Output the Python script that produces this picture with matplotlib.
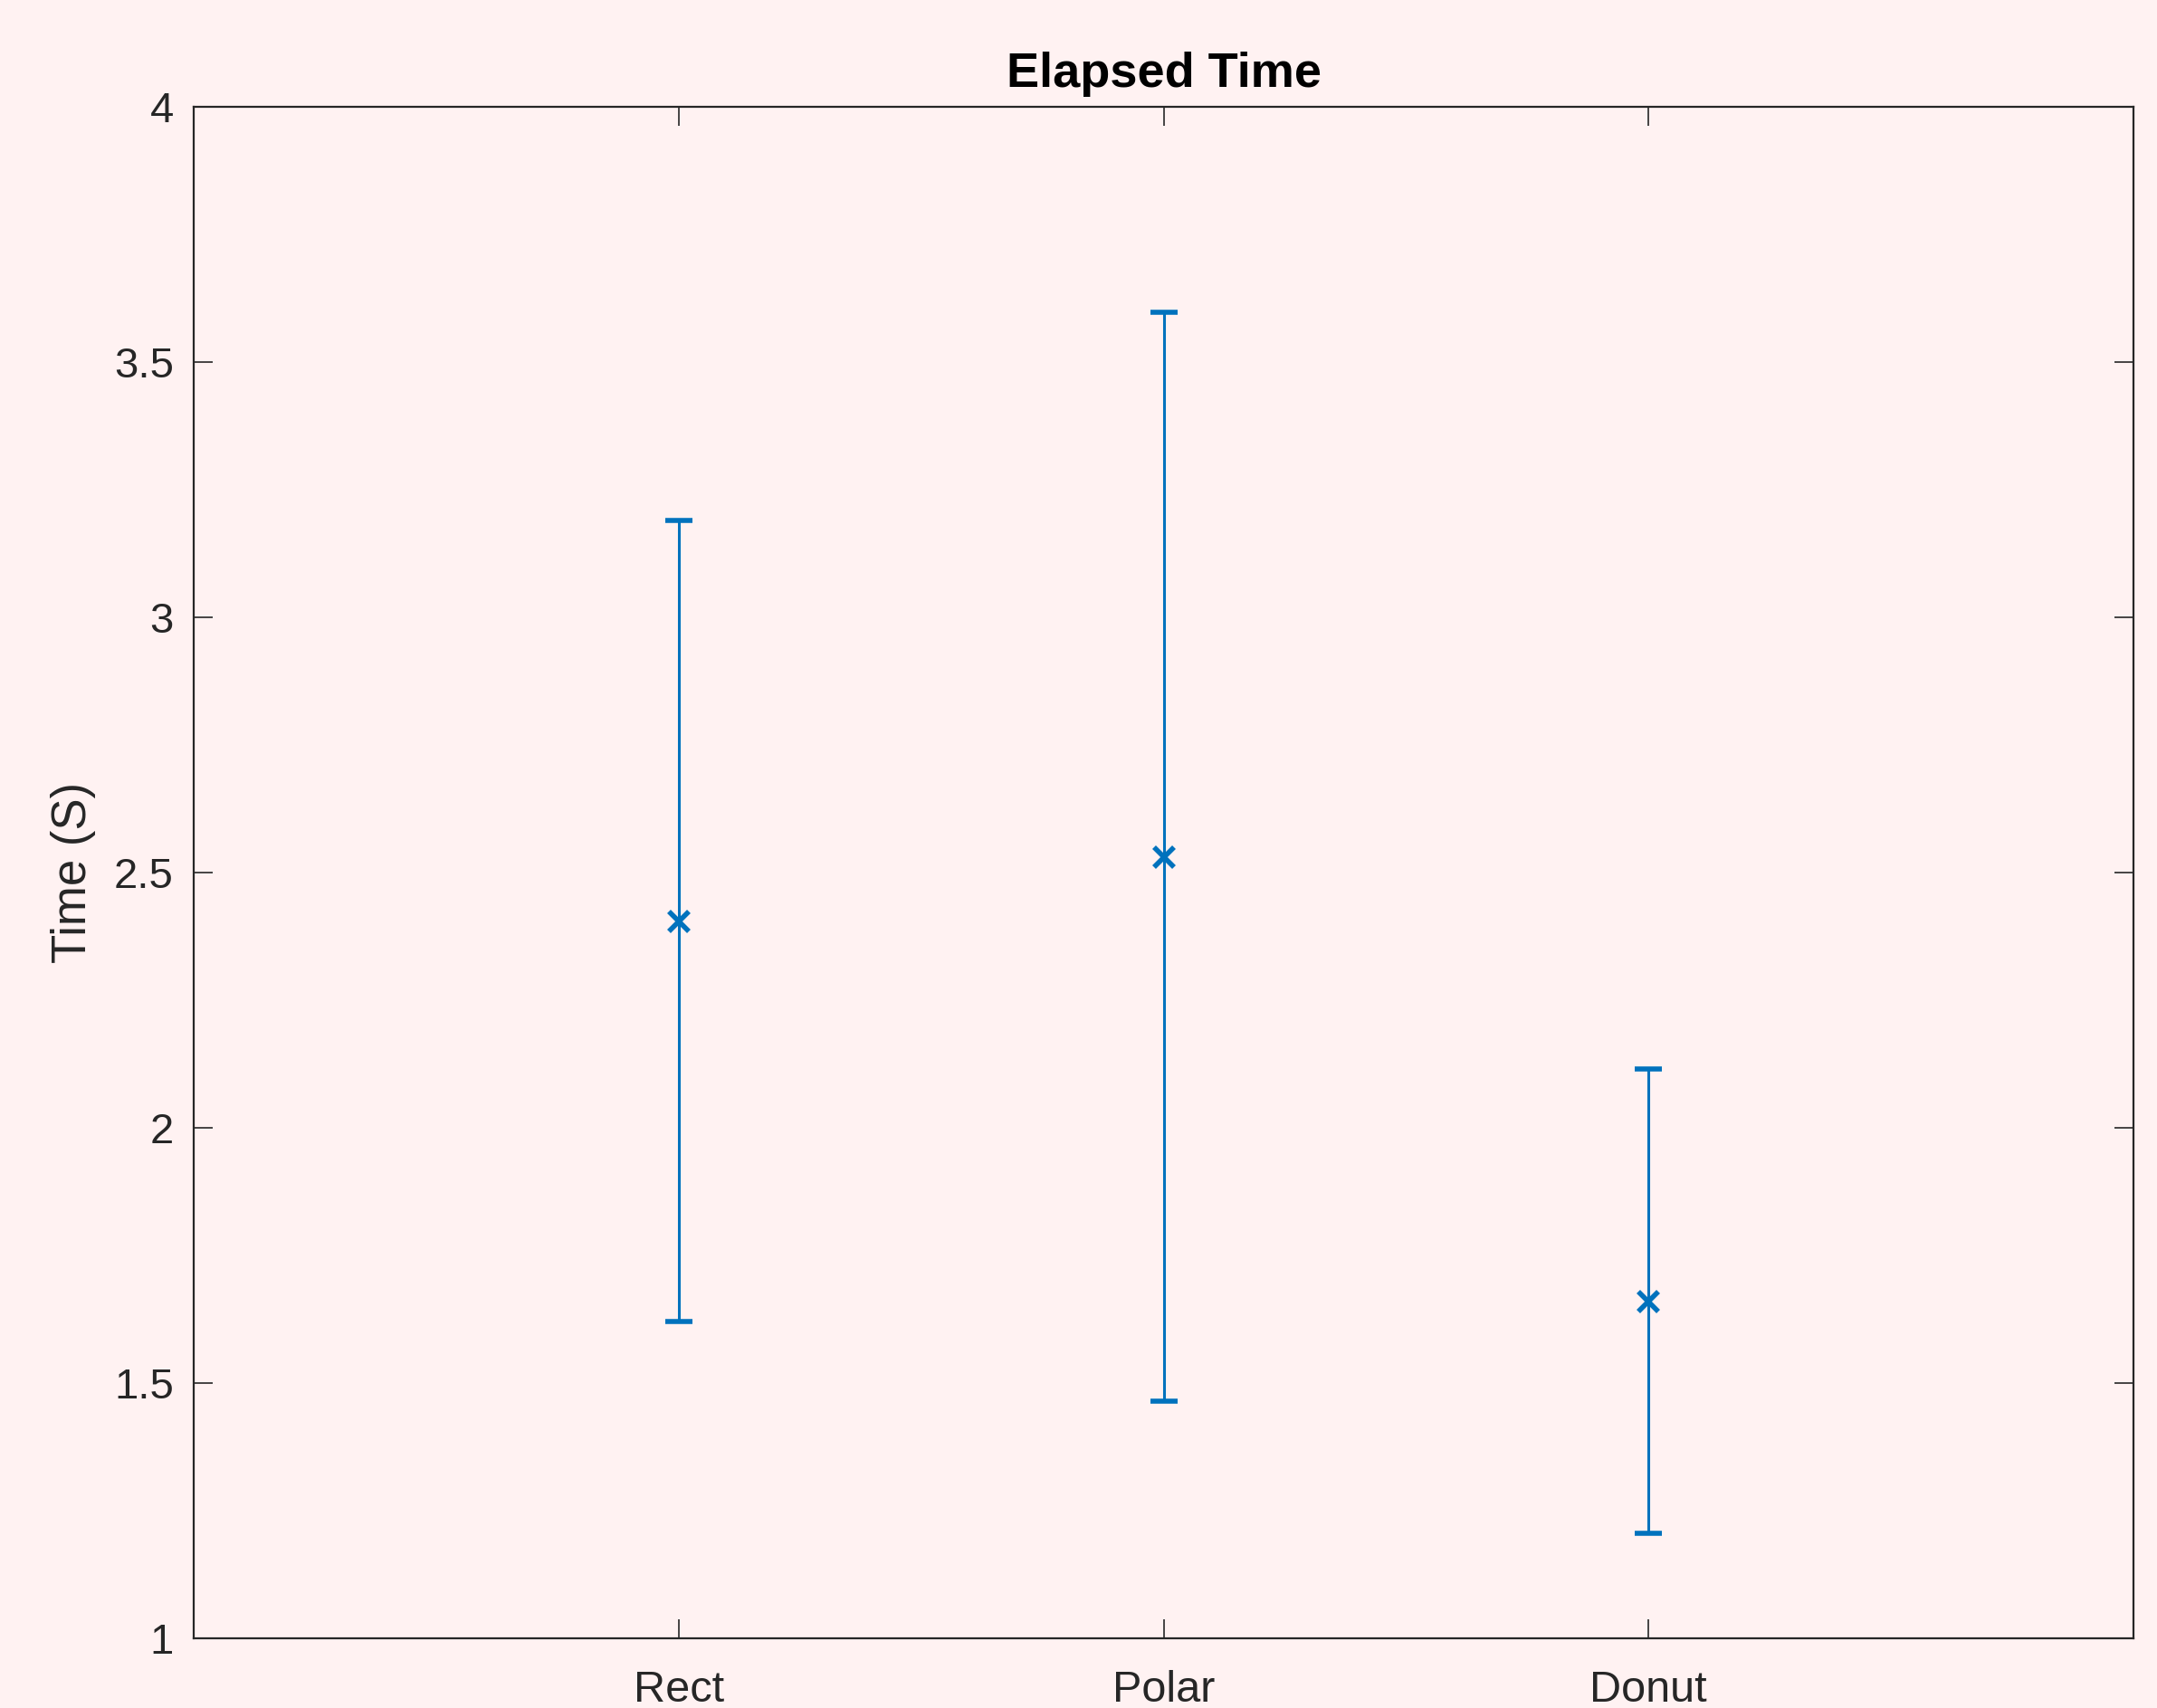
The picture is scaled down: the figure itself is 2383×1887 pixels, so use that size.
import matplotlib
matplotlib.use("Agg")
import matplotlib.pyplot as plt

categories = ["Rect", "Polar", "Donut"]
means = [2.404, 2.531, 1.660]
upper = [3.189, 3.598, 2.116]
lower = [1.620, 1.464, 1.205]

plt.rcParams['font.family'] = ['Liberation Sans', 'DejaVu Sans']
bg = '#FFF2F2'
axc = '#262626'
blue = '#0072BD'

fig = plt.figure(figsize=(2383/200, 1887/200), dpi=200, facecolor=bg)
ax = fig.add_axes([214/2383, 1-1810/1887, (2357-214)/2383, (1810-118)/1887])
ax.set_facecolor(bg)

x = list(range(1, len(categories)+1))
yerr = [[m - l for m, l in zip(means, lower)], [u - m for m, u in zip(means, upper)]]
ax.errorbar(x, means, yerr=yerr, fmt='x', color=blue, ecolor=blue,
            elinewidth=1.1, capsize=5.5, capthick=1.1, markersize=8, mew=2.0)

ax.set_xlim(0, 4)
ax.set_ylim(1, 4)
ax.set_xticks(x)
ax.set_xticklabels(categories)
ax.set_yticks([1, 1.5, 2, 2.5, 3, 3.5, 4])
ax.set_yticklabels(['1', '1.5', '2', '2.5', '3', '3.5', '4'])
ax.tick_params(direction='in', length=7.7, width=0.6, colors=axc, labelsize=17,
               top=True, right=True, pad=8)
ax.tick_params(axis='x', pad=12.5, labelsize=17.5)
for s in ax.spines.values():
    s.set_color(axc)
    s.set_linewidth(0.8)
ax.set_ylabel('Time (S)', fontsize=19, color=axc, labelpad=7)
ax.set_title('Elapsed Time', fontsize=19.5, fontweight='bold', color='black', pad=8)

fig.savefig('out.png', dpi=200, facecolor=bg)
